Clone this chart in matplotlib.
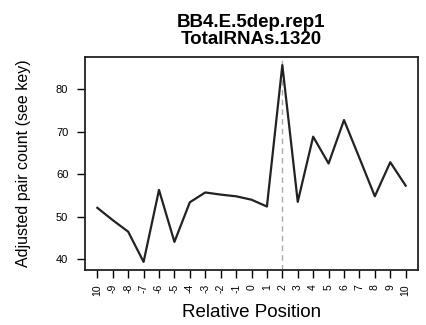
import matplotlib.pyplot as plt

plt.rcParams['font.family'] = ['Liberation Sans', 'DejaVu Sans']

# Adjusted pair counts by relative position
positions = list(range(-10, 11))
tick_labels = ['10'] + [str(p) for p in range(-9, 11)]
counts = [52.1, 49.2, 46.5, 39.4, 56.3, 44.1, 53.4, 55.7, 55.2, 54.8, 54.0,
          52.4, 85.6, 53.5, 68.8, 62.5, 72.7, 63.8, 54.8, 62.8, 57.3]
marker_pos = 2

fig = plt.figure(figsize=(4.26, 3.25), dpi=100)
ax = fig.add_axes([85 / 426, 1 - 270 / 325, 333 / 426, 213 / 325])

ax.axvline(marker_pos, color='#aaaaaa', linestyle=(0, (4, 3)), linewidth=1.0)
ax.plot(positions, counts, color='#222222', linewidth=1.6)

ax.set_xlim(-10.8, 10.8)
ax.set_ylim(37.5, 87.5)
ax.set_xticks(positions)
ax.set_xticklabels(tick_labels, rotation=90, fontsize=7.5)
ax.set_yticks([40, 50, 60, 70, 80])
ax.tick_params(axis='y', labelsize=8, length=6, width=1, pad=6)
ax.tick_params(axis='x', length=6, width=1, pad=4)
for s in ax.spines.values():
    s.set_linewidth(1.3)
    s.set_color('#222222')

ax.set_title('BB4.E.5dep.rep1\nTotalRNAs.1320', fontsize=13.5, fontweight='bold',
             linespacing=1.05, pad=9)
ax.set_xlabel('Relative Position', fontsize=13.5, labelpad=6)
ax.set_ylabel('Adjusted pair count (see key)', fontsize=11.5, labelpad=18)

fig.savefig('out.png', dpi=100)
